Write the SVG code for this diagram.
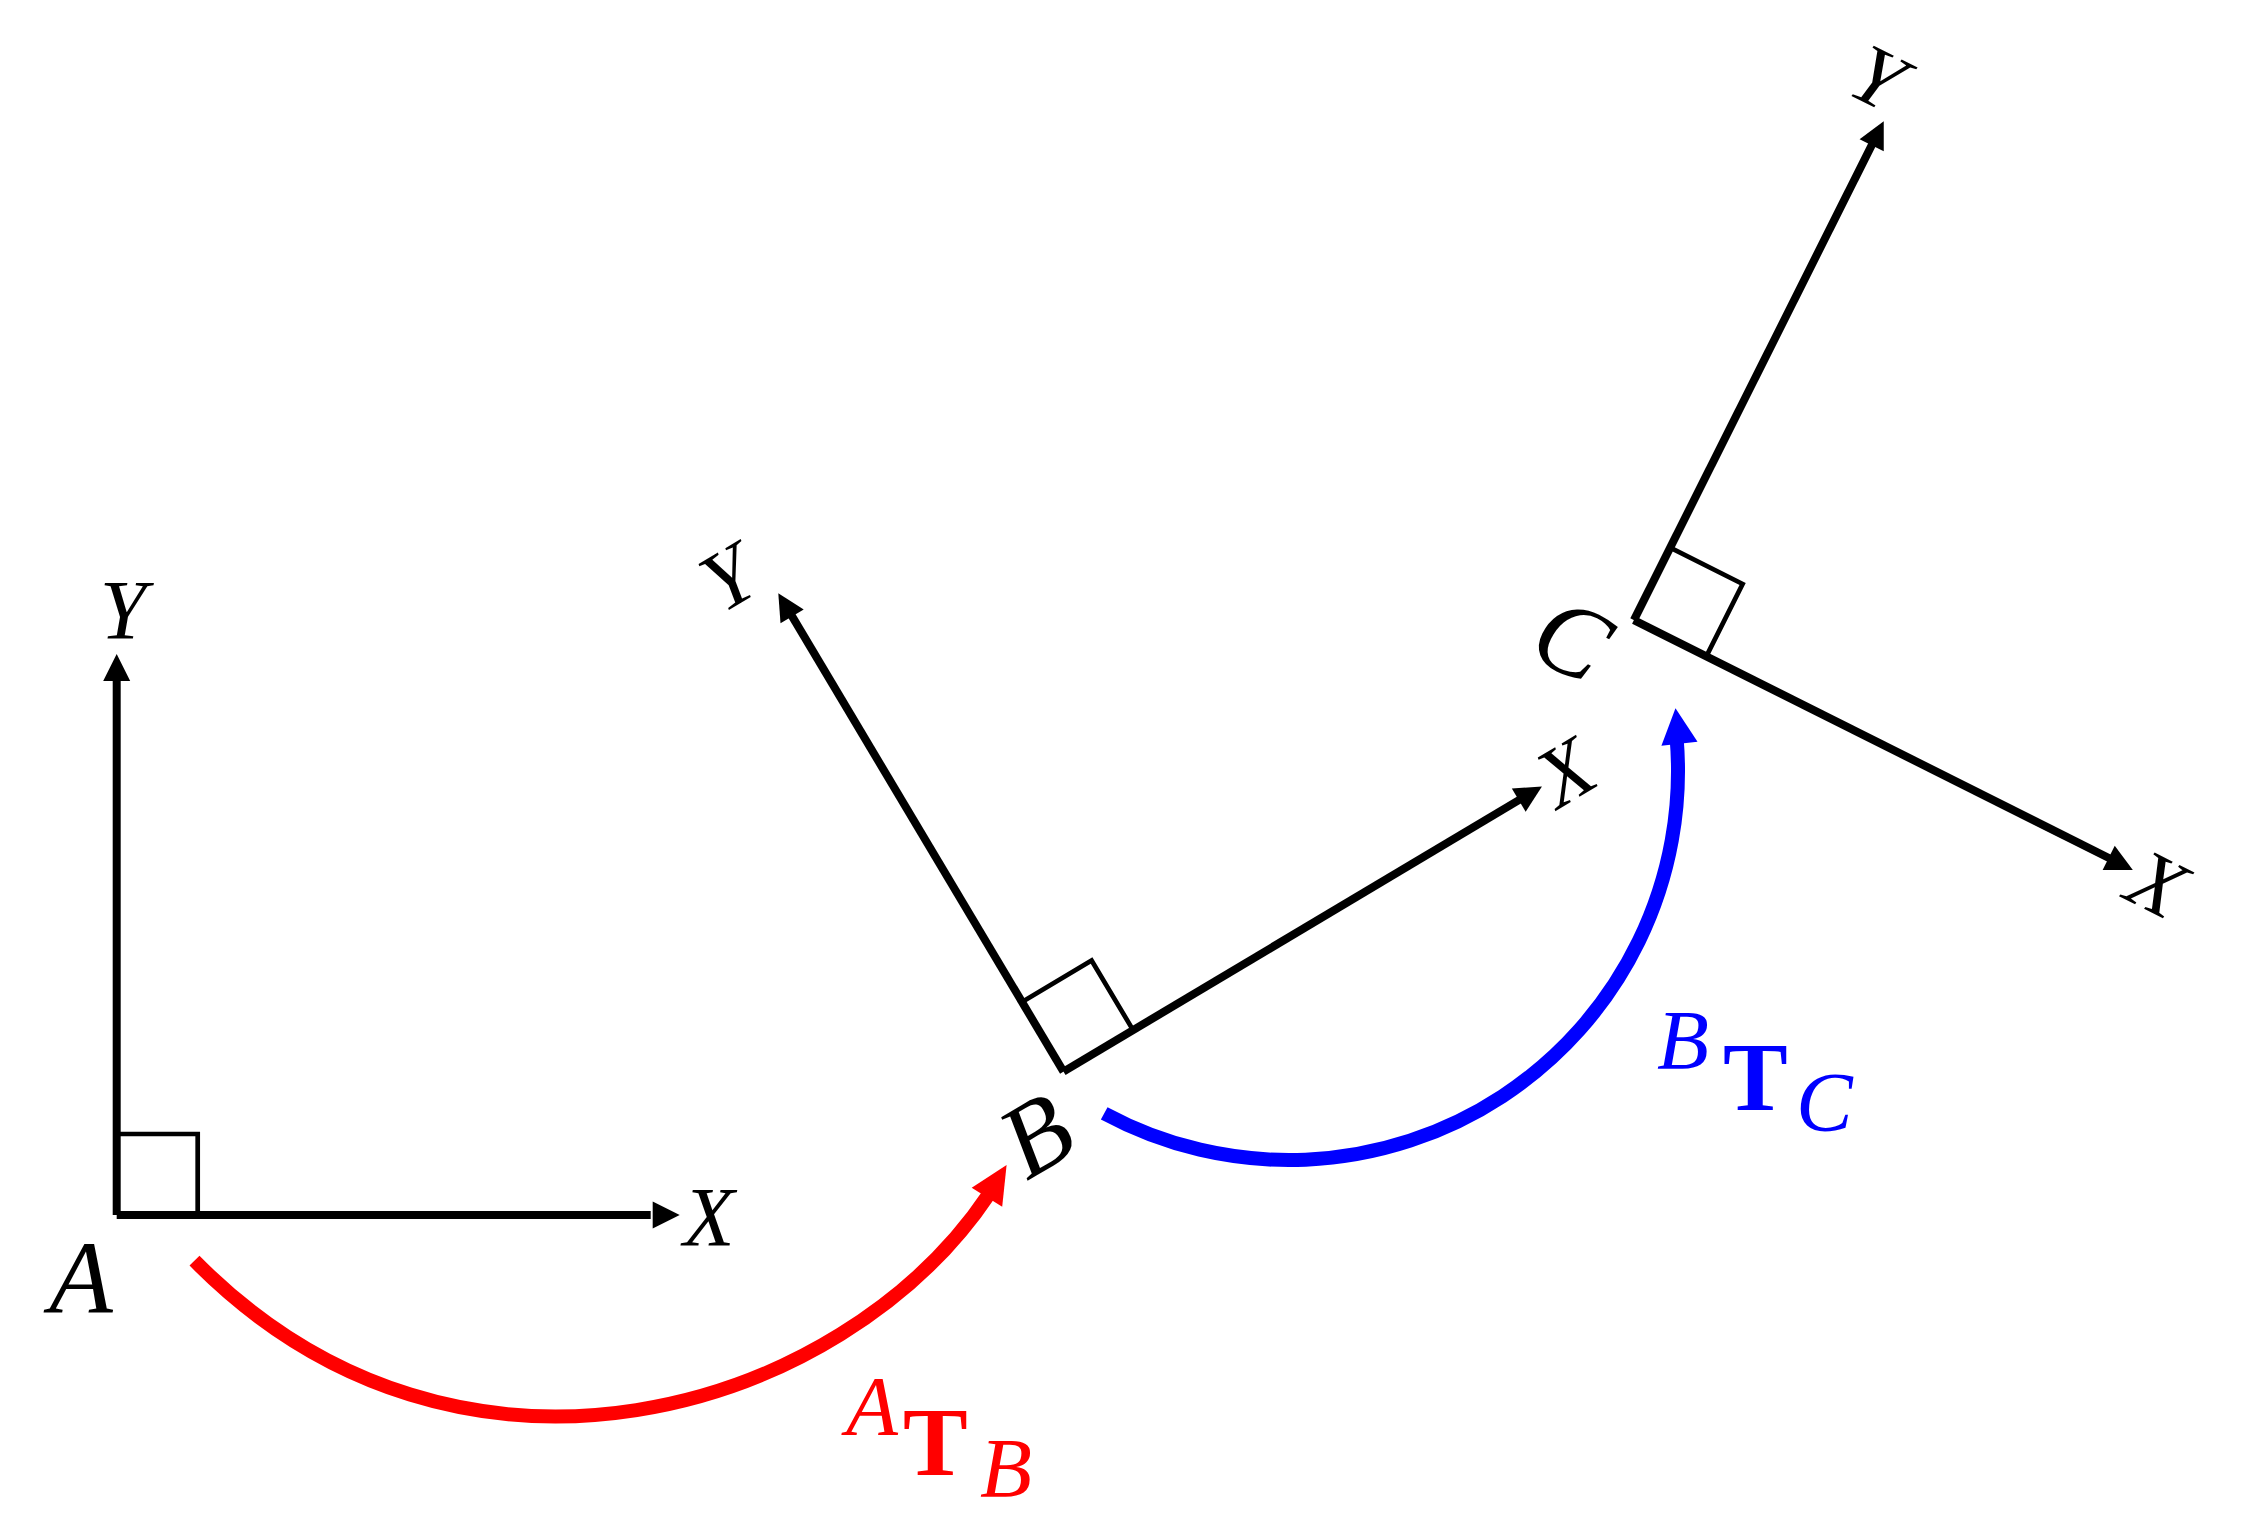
<svg xmlns="http://www.w3.org/2000/svg" width="2253" height="1528" viewBox="0 0 2253 1528">
<style>
.axis{stroke:#000;stroke-width:8;fill:none;stroke-linecap:butt}
.sq{stroke:#000;stroke-width:4.7;fill:none;stroke-linejoin:miter}
.head{fill:#000}
.lbl{font-family:"Liberation Serif","Times New Roman",serif;font-style:italic;fill:#000;text-anchor:middle}
.ax{font-size:84px}
.pt{font-size:104px}
.mi{font-family:"Liberation Serif","Times New Roman",serif;font-style:italic;font-size:85px}
.bf{font-family:"Liberation Serif","Times New Roman",serif;font-weight:bold;font-size:97px}
</style>
<defs>
<g id="axes">
<line class="axis" x1="0" y1="0" x2="0" y2="-534"/>
<line class="axis" x1="0" y1="0" x2="534" y2="0"/>
<polyline class="sq" points="0,-81 81,-81 81,0"/>
</g>
</defs>
<rect width="2253" height="1528" fill="#fff"/>
<g id="frameA">
<g transform="translate(116.7,1215)">
<use href="#axes"/>
<polygon class="head" points="563,0 536,-13.5 536,13.5"/>
<polygon class="head" points="0,-561 -13.5,-534 13.5,-534"/>
</g>
<text class="lbl ax" x="123" y="639">Y</text>
<text class="lbl ax" x="709" y="1246">X</text>
<text class="lbl pt" x="80.9" y="1313">A</text>
</g>
<g id="frameB">
<g transform="translate(1063.5,1071.6) rotate(-30.8)">
<use href="#axes"/>
<polygon class="head" points="557,0 530,-13.5 530,13.5"/>
<polygon class="head" points="0,-557 -13.5,-530 13.5,-530"/>
</g>
<text class="lbl ax" transform="translate(728,578) rotate(-30.8)" y="28">Y</text>
<text class="lbl ax" transform="translate(1565.5,772.5) rotate(-30.8)" y="28">X</text>
<text class="lbl pt" transform="translate(1036,1135) rotate(-30.8)" y="35">B</text>
</g>
<g id="frameC">
<g transform="translate(1633.9,620.1) rotate(26.6)">
<use href="#axes"/>
<polygon class="head" points="558,0 531,-13.5 531,13.5"/>
<polygon class="head" points="0,-558 -13.5,-531 13.5,-531"/>
</g>
<text class="lbl ax" transform="translate(1878,78) rotate(26.6)" y="28">Y</text>
<text class="lbl ax" transform="translate(2157,884) rotate(26.6)" y="28">X</text>
<text class="lbl pt" transform="translate(1572,639) rotate(26.6)" y="35">C</text>
</g>
<g id="connectors">
<g id="AtoB">
<path d="M194.5,1260.7 C460,1530 843,1412 989,1194" fill="none" stroke="#f00" stroke-width="14"/>
<polygon points="1006.6,1165 971.7,1187.7 1002.2,1206.7" fill="#f00"/>
<text fill="#f00"><tspan class="mi" x="846" y="1435">A</tspan><tspan class="bf" x="903" y="1475">T</tspan><tspan class="mi" x="980" y="1497">B</tspan></text>
</g>
<g id="BtoC">
<path d="M1104.2,1113.3 A389,389 0 0 0 1676.6,738" fill="none" stroke="#00f" stroke-width="14"/>
<polygon points="1675.5,708.3 1661.4,745.7 1697.5,741.8" fill="#00f"/>
<text fill="#00f"><tspan class="mi" x="1657" y="1069">B</tspan><tspan class="bf" x="1723" y="1110">T</tspan><tspan class="mi" x="1796" y="1131">C</tspan></text>
</g>
</g>
</svg>
